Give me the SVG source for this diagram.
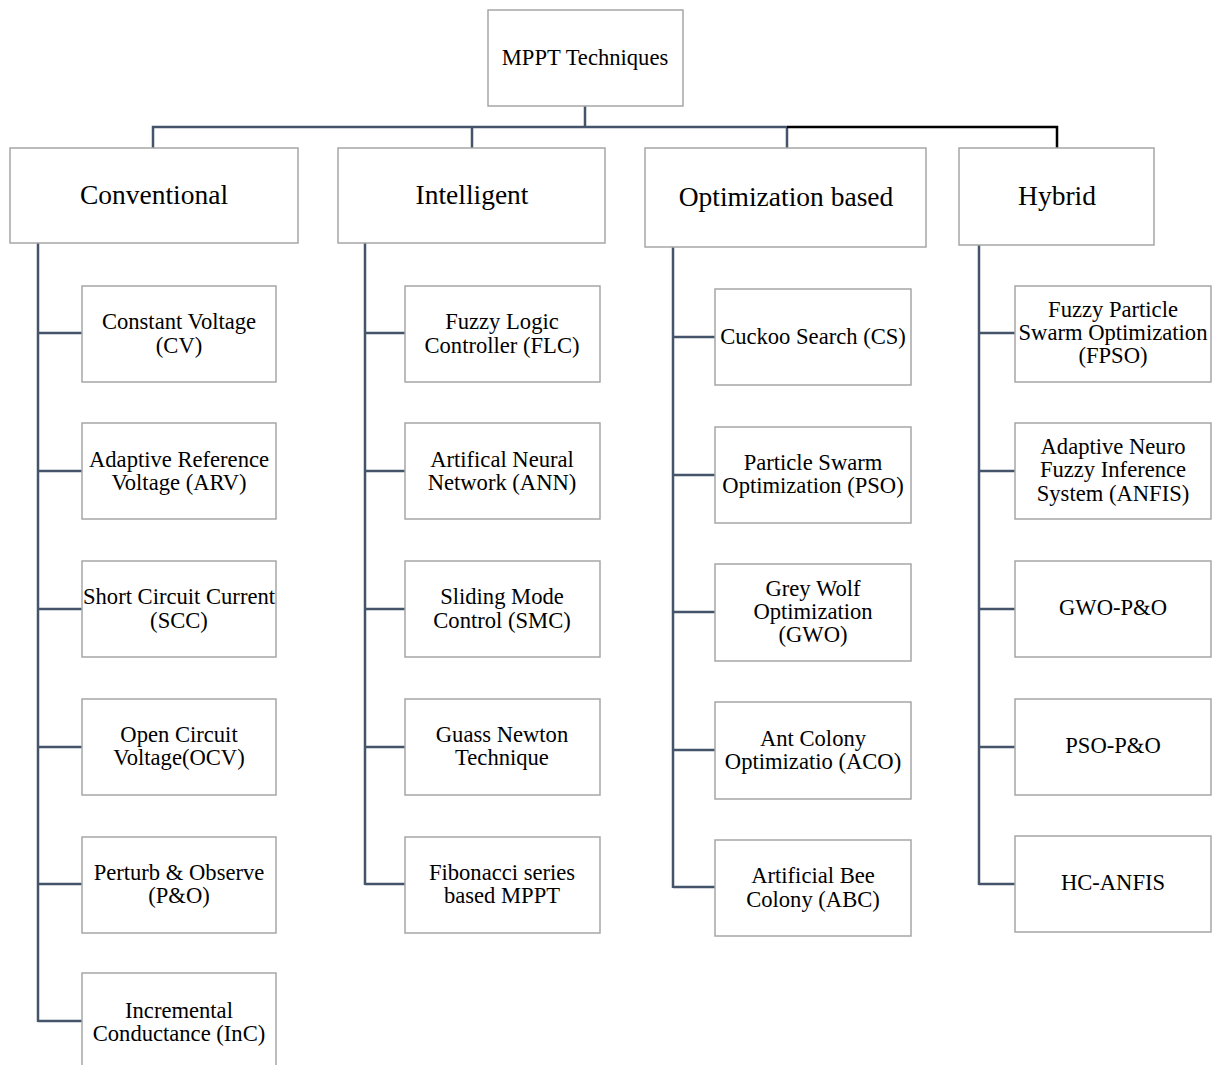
<svg xmlns="http://www.w3.org/2000/svg" width="1215" height="1065" viewBox="0 0 1215 1065">
  <style>
    .box { fill: #ffffff; stroke: #a6a6a6; stroke-width: 1.5; }
    .lbl { font-family: "Liberation Serif", "Times New Roman", serif; font-size: 22.6px; fill: #000000; text-anchor: middle; }
    .cat { font-family: "Liberation Serif", "Times New Roman", serif; font-size: 27.5px; fill: #000000; text-anchor: middle; }
    .wire { fill: none; stroke: #44546a; stroke-width: 2.5; }
    .wire-k { fill: none; stroke: #000000; stroke-width: 2.5; }
  </style>
  <rect width="1215" height="1065" fill="#ffffff"/>

  <!-- connectors -->
  <g id="connectors">
    <!-- root to categories -->
    <path class="wire" d="M585,106 V127 M153,148 V127 H787 M472,127 V148 M787,127 V148"/>
    <path class="wire-k" d="M787,127 H1057 V148"/>
    <!-- Conventional spine -->
    <path class="wire" d="M38,243 V1022 M38,333 H82 M38,471 H82 M38,609 H82 M38,747 H82 M38,884 H82 M38,1021 H82"/>
    <!-- Intelligent spine -->
    <path class="wire" d="M365,243 V885 M365,333 H405 M365,471 H405 M365,609 H405 M365,747 H405 M365,884 H405"/>
    <!-- Optimization spine -->
    <path class="wire" d="M673,247 V888 M673,337 H715 M673,475 H715 M673,612 H715 M673,750 H715 M673,887 H715"/>
    <!-- Hybrid spine -->
    <path class="wire" d="M979,245 V885 M979,333 H1015 M979,471 H1015 M979,609 H1015 M979,747 H1015 M979,884 H1015"/>
  </g>

  <!-- root -->
  <g id="root">
    <rect class="box" x="488" y="10" width="195" height="96"/>
    <text class="lbl" x="585" y="65">MPPT Techniques</text>
  </g>

  <!-- categories -->
  <g id="cat-conventional">
    <rect class="box" x="10" y="148" width="288" height="95"/>
    <text class="cat" x="154" y="204">Conventional</text>
  </g>
  <g id="cat-intelligent">
    <rect class="box" x="338" y="148" width="267" height="95"/>
    <text class="cat" x="472" y="204">Intelligent</text>
  </g>
  <g id="cat-optimization">
    <rect class="box" x="645" y="148" width="281" height="99"/>
    <text class="cat" x="786" y="206">Optimization based</text>
  </g>
  <g id="cat-hybrid">
    <rect class="box" x="959" y="148" width="195" height="97"/>
    <text class="cat" x="1057" y="205">Hybrid</text>
  </g>

  <!-- Conventional techniques -->
  <g id="n-cv">
    <rect class="box" x="82" y="286" width="194" height="96"/>
    <text class="lbl" x="179" y="329">Constant Voltage</text>
    <text class="lbl" x="179" y="353">(CV)</text>
  </g>
  <g id="n-arv">
    <rect class="box" x="82" y="423" width="194" height="96"/>
    <text class="lbl" x="179" y="467">Adaptive Reference</text>
    <text class="lbl" x="179" y="490">Voltage (ARV)</text>
  </g>
  <g id="n-scc">
    <rect class="box" x="82" y="561" width="194" height="96"/>
    <text class="lbl" x="179" y="604">Short Circuit Current</text>
    <text class="lbl" x="179" y="628">(SCC)</text>
  </g>
  <g id="n-ocv">
    <rect class="box" x="82" y="699" width="194" height="96"/>
    <text class="lbl" x="179" y="742">Open Circuit</text>
    <text class="lbl" x="179" y="765">Voltage(OCV)</text>
  </g>
  <g id="n-po">
    <rect class="box" x="82" y="837" width="194" height="96"/>
    <text class="lbl" x="179" y="880">Perturb &amp; Observe</text>
    <text class="lbl" x="179" y="903">(P&amp;O)</text>
  </g>
  <g id="n-inc">
    <rect class="box" x="82" y="973" width="194" height="96"/>
    <text class="lbl" x="179" y="1018">Incremental</text>
    <text class="lbl" x="179" y="1041">Conductance (InC)</text>
  </g>

  <!-- Intelligent techniques -->
  <g id="n-flc">
    <rect class="box" x="405" y="286" width="195" height="96"/>
    <text class="lbl" x="502" y="329">Fuzzy Logic</text>
    <text class="lbl" x="502" y="353">Controller (FLC)</text>
  </g>
  <g id="n-ann">
    <rect class="box" x="405" y="423" width="195" height="96"/>
    <text class="lbl" x="502" y="467">Artifical Neural</text>
    <text class="lbl" x="502" y="490">Network (ANN)</text>
  </g>
  <g id="n-smc">
    <rect class="box" x="405" y="561" width="195" height="96"/>
    <text class="lbl" x="502" y="604">Sliding Mode</text>
    <text class="lbl" x="502" y="628">Control (SMC)</text>
  </g>
  <g id="n-gn">
    <rect class="box" x="405" y="699" width="195" height="96"/>
    <text class="lbl" x="502" y="742">Guass Newton</text>
    <text class="lbl" x="502" y="765">Technique</text>
  </g>
  <g id="n-fib">
    <rect class="box" x="405" y="837" width="195" height="96"/>
    <text class="lbl" x="502" y="880">Fibonacci series</text>
    <text class="lbl" x="502" y="903">based MPPT</text>
  </g>

  <!-- Optimization based techniques -->
  <g id="n-cs">
    <rect class="box" x="715" y="289" width="196" height="96"/>
    <text class="lbl" x="813" y="344">Cuckoo Search (CS)</text>
  </g>
  <g id="n-pso">
    <rect class="box" x="715" y="427" width="196" height="96"/>
    <text class="lbl" x="813" y="470">Particle Swarm</text>
    <text class="lbl" x="813" y="493">Optimization (PSO)</text>
  </g>
  <g id="n-gwo">
    <rect class="box" x="715" y="564" width="196" height="97"/>
    <text class="lbl" x="813" y="596">Grey Wolf</text>
    <text class="lbl" x="813" y="619">Optimization</text>
    <text class="lbl" x="813" y="642">(GWO)</text>
  </g>
  <g id="n-aco">
    <rect class="box" x="715" y="702" width="196" height="97"/>
    <text class="lbl" x="813" y="746">Ant Colony</text>
    <text class="lbl" x="813" y="769">Optimizatio (ACO)</text>
  </g>
  <g id="n-abc">
    <rect class="box" x="715" y="840" width="196" height="96"/>
    <text class="lbl" x="813" y="883">Artificial Bee</text>
    <text class="lbl" x="813" y="907">Colony (ABC)</text>
  </g>

  <!-- Hybrid techniques -->
  <g id="n-fpso">
    <rect class="box" x="1015" y="286" width="196" height="96"/>
    <text class="lbl" x="1113" y="317">Fuzzy Particle</text>
    <text class="lbl" x="1113" y="340">Swarm Optimization</text>
    <text class="lbl" x="1113" y="363">(FPSO)</text>
  </g>
  <g id="n-anfis">
    <rect class="box" x="1015" y="423" width="196" height="96"/>
    <text class="lbl" x="1113" y="454">Adaptive Neuro</text>
    <text class="lbl" x="1113" y="477">Fuzzy Inference</text>
    <text class="lbl" x="1113" y="501">System (ANFIS)</text>
  </g>
  <g id="n-gwo-po">
    <rect class="box" x="1015" y="561" width="196" height="96"/>
    <text class="lbl" x="1113" y="615">GWO-P&amp;O</text>
  </g>
  <g id="n-pso-po">
    <rect class="box" x="1015" y="699" width="196" height="96"/>
    <text class="lbl" x="1113" y="753">PSO-P&amp;O</text>
  </g>
  <g id="n-hc-anfis">
    <rect class="box" x="1015" y="836" width="196" height="96"/>
    <text class="lbl" x="1113" y="890">HC-ANFIS</text>
  </g>
</svg>
